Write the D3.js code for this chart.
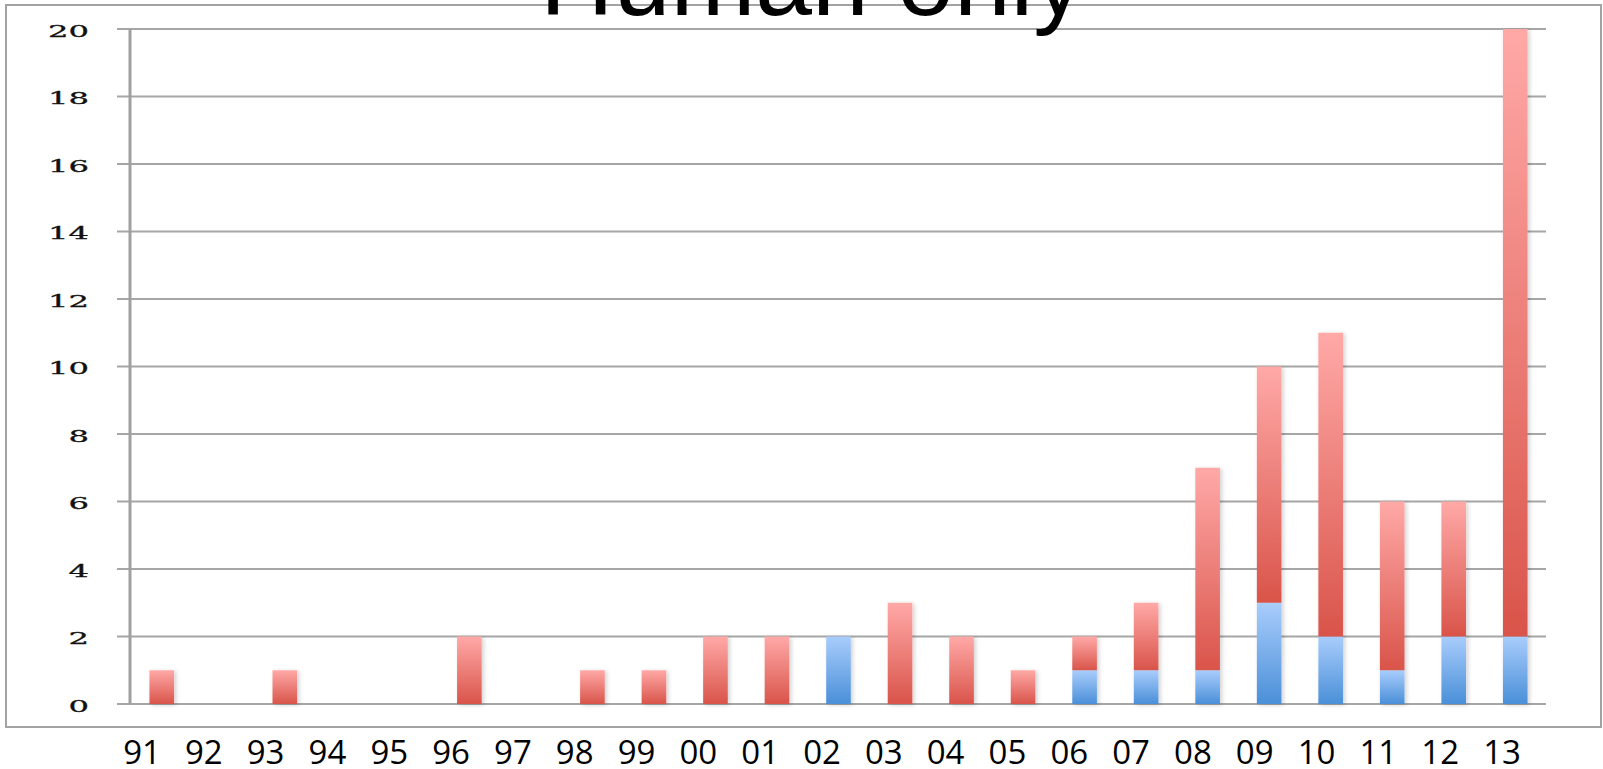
<html>
<head>
	<script src="https://d3js.org/d3.v7.min.js"></script>
	<style>
		body { margin: 0; background: #fff; }
	</style>
</head>
<body>
	<script>
		var years = ["91","92","93","94","95","96","97","98","99","00","01","02","03","04","05","06","07","08","09","10","11","12","13"];
		var blue = [0,0,0,0,0,0,0,0,0,0,0,2,0,0,0,1,1,1,3,2,1,2,2];
		var red  = [1,0,1,0,0,2,0,1,1,2,2,0,3,2,1,1,2,6,7,9,5,4,18];
		var yTicks = [0,2,4,6,8,10,12,14,16,18,20];
		var title = "Human only";

		var w = 1603, h = 769;

		var data = years.map(function(y, i){ return {year: y, blue: blue[i], red: red[i]}; });

		var xScale = d3.scaleBand().domain(years).range([131, 1546]).paddingInner(0.6).paddingOuter(0.3);
		var xLabel = d3.scalePoint().domain(years).range([142, 1502]);
		var yScale = d3.scaleLinear().domain([0, 20]).range([704, 29]);

		var svg = d3.select('body').append('svg').attr('width', w).attr('height', h);

		var defs = svg.append("defs");
		function grad(id, top, bottom){
			var g = defs.append("linearGradient").attr("id", id).attr("x1", 0).attr("y1", 0).attr("x2", 0).attr("y2", 1);
			g.append("stop").attr("offset", "0%").attr("stop-color", top);
			g.append("stop").attr("offset", "100%").attr("stop-color", bottom);
		}
		grad("gRed", "#ffa9a7", "#d9544a");
		grad("gBlue", "#a9cdfc", "#4a8fd8");
		var f = defs.append("filter").attr("id", "shadow").attr("x", "-50%").attr("y", "-10%").attr("width", "200%").attr("height", "120%");
		f.append("feDropShadow").attr("dx", 2).attr("dy", 1).attr("stdDeviation", 2).attr("flood-color", "#000").attr("flood-opacity", 0.18);

		// frame
		svg.append("rect").attr("x", 6).attr("y", 5).attr("width", 1595).attr("height", 722)
			.attr("fill", "none").attr("stroke", "#a3a3a3").attr("stroke-width", 2);

		// gridlines
		svg.append("g").selectAll("line").data(yTicks).enter().append("line")
			.attr("x1", 117).attr("x2", 1546)
			.attr("y1", function(d){ return yScale(d); }).attr("y2", function(d){ return yScale(d); })
			.attr("stroke", "#a6a6a6").attr("stroke-width", 2);

		// y axis line
		svg.append("line").attr("x1", 130).attr("x2", 130).attr("y1", yScale(20)).attr("y2", yScale(0))
			.attr("stroke", "#a0a0a0").attr("stroke-width", 3);

		// y labels (stretched serif)
		svg.append("g").attr("transform", "scale(1.9,1)").selectAll("text").data(yTicks).enter().append("text")
			.attr("x", 89 / 1.9).attr("y", function(d){ return yScale(d) + 8; })
			.attr("text-anchor", "end")
			.attr("font-family", "DejaVu Serif").attr("font-size", 17).attr("fill", "#111")
			.attr("stroke", "#111").attr("stroke-width", 0.3)
			.text(function(d){ return d; });

		// bars
		var bars = svg.append("g").attr("filter", "url(#shadow)");
		bars.selectAll("rect.b").data(data.filter(function(d){ return d.blue > 0; })).enter().append("rect")
			.attr("class", "b")
			.attr("x", function(d){ return xScale(d.year); })
			.attr("width", xScale.bandwidth())
			.attr("y", function(d){ return yScale(d.blue); })
			.attr("height", function(d){ return yScale(0) - yScale(d.blue); })
			.attr("fill", "url(#gBlue)");
		bars.selectAll("rect.r").data(data.filter(function(d){ return d.red > 0; })).enter().append("rect")
			.attr("class", "r")
			.attr("x", function(d){ return xScale(d.year); })
			.attr("width", xScale.bandwidth())
			.attr("y", function(d){ return yScale(d.blue + d.red); })
			.attr("height", function(d){ return yScale(d.blue) - yScale(d.blue + d.red); })
			.attr("fill", "url(#gRed)");

		// x labels
		svg.append("g").selectAll("text").data(years).enter().append("text")
			.attr("x", function(d){ return xLabel(d); }).attr("y", 764)
			.attr("text-anchor", "middle")
			.attr("font-family", "Open Sans").attr("font-size", 33).attr("fill", "#000")
			.text(function(d){ return d; });

		// title
		svg.append("text").attr("x", 540).attr("y", 15)
			.attr("font-family", "Liberation Sans").attr("font-size", 102).attr("fill", "#000")
			.text(title);
	</script>
</body>
</html>
